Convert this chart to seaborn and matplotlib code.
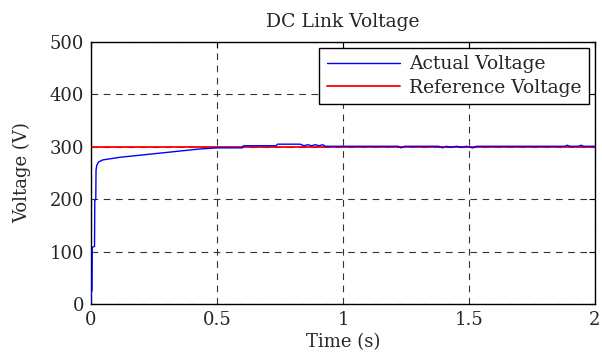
import matplotlib
matplotlib.use("Agg")
import matplotlib.pyplot as plt
import seaborn as sns
import pandas as pd

# DC link voltage trace (time in s, voltage in V)
time_s = [0.000, 0.001, 0.004, 0.005, 0.014, 0.015, 0.019, 0.020, 0.023, 0.030,
          0.047, 0.075, 0.115, 0.155, 0.195, 0.235, 0.275, 0.315, 0.355, 0.395,
          0.435, 0.470, 0.500, 0.600, 0.605, 0.735, 0.740, 0.830, 0.845, 0.860,
          0.875, 0.890, 0.905, 0.920, 0.930, 1.000, 1.220, 1.230, 1.245, 1.380,
          1.395, 1.410, 1.430, 1.450, 1.470, 1.490, 1.515, 1.530, 1.880, 1.890,
          1.900, 1.935, 1.945, 1.955, 2.000]
actual_v = [0, 25, 25, 108, 110, 197, 200, 256, 265, 271,
            275, 277, 280, 282, 284, 286, 288, 290, 292, 294,
            296, 297, 298, 298, 302, 302, 305, 305, 302, 304,
            302, 304, 302, 304, 301, 301, 301, 298, 301, 301,
            298, 301, 299, 301, 299, 301, 298, 301, 301, 303,
            301, 301, 303, 301, 301]
ref_time_s = [0.0, 2.0]
ref_v = [300, 300]

series_names = ["Actual Voltage", "Reference Voltage"]
title_text = "DC Link Voltage"
x_ticks = [0, 0.5, 1, 1.5, 2]
x_tick_labels = ["0", "0.5", "1", "1.5", "2"]
y_ticks = [0, 100, 200, 300, 400, 500]

actual = pd.DataFrame({"t": time_s, "v": actual_v})
reference = pd.DataFrame({"t": ref_time_s, "v": ref_v})

sns.set_style("white")
plt.rcParams["font.family"] = ["DejaVu Serif"]

fig = plt.figure(figsize=(6.02, 3.54), dpi=100)
ax = fig.add_axes([91 / 602, 1 - 304 / 354, 504 / 602, 262 / 354])

sns.lineplot(data=actual, x="t", y="v", ax=ax, color="#0000ff", lw=1.0,
             label=series_names[0], zorder=3, sort=False)
sns.lineplot(data=reference, x="t", y="v", ax=ax, color="#ff0000", lw=1.3,
             label=series_names[1], zorder=2)

ax.set_xlim(0, 2)
ax.set_ylim(0, 500)
ax.set_xticks(x_ticks)
ax.set_xticklabels(x_tick_labels)
ax.set_yticks(y_ticks)
ax.tick_params(direction="in", length=4, width=0.8, color="black",
               labelsize=13, pad=5, top=True, right=True)
ax.grid(True, color="#333333", linestyle=(0, (6, 5)), linewidth=0.8)
for sp in ax.spines.values():
    sp.set_color("black")
    sp.set_linewidth(1.0)

ax.set_title(title_text, fontsize=13.5, pad=11)
ax.set_xlabel("Time (s)", fontsize=13, labelpad=3)
ax.set_ylabel("Voltage (V)", fontsize=13, labelpad=13)

leg = ax.legend(loc="upper right", fontsize=13.5, frameon=True, fancybox=False,
                framealpha=1, edgecolor="black", borderaxespad=0.3,
                handlelength=3.9, handletextpad=0.5, borderpad=0.4,
                labelspacing=0.3)
leg.get_frame().set_linewidth(1.0)

fig.savefig("out.png", dpi=100)
